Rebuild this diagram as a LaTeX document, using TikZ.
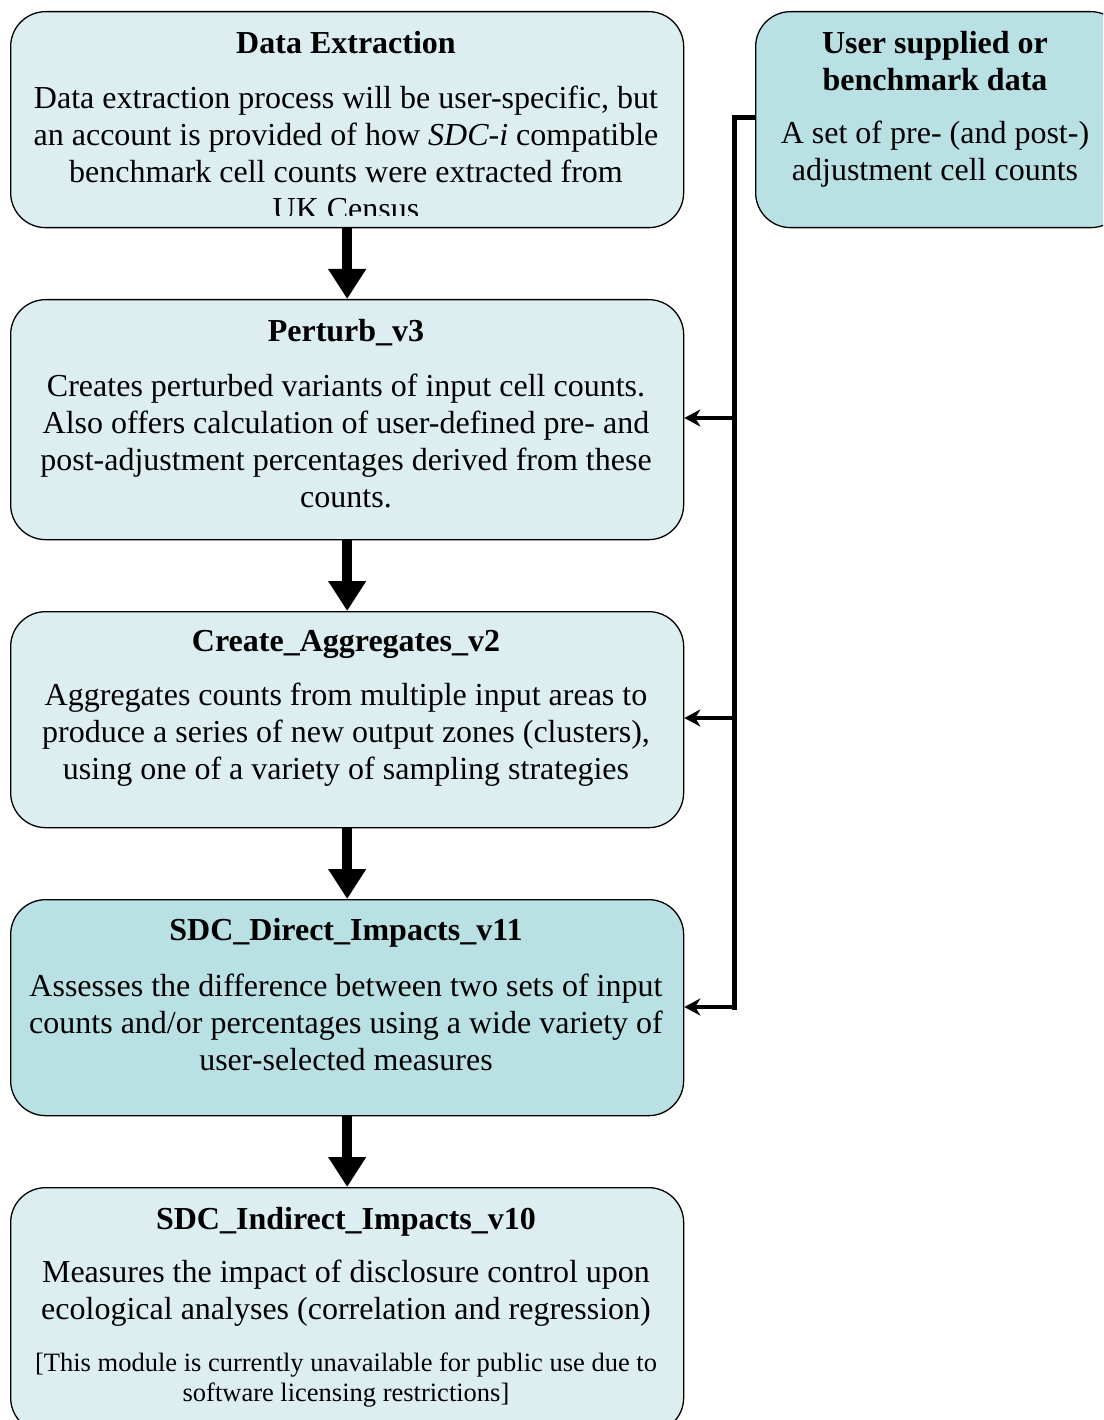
\documentclass[tikz,border=0pt]{standalone}
\usepackage{fontspec}
\setmainfont{Liberation Serif}
\usetikzlibrary{arrows.meta}
\definecolor{lightbox}{RGB}{221,238,241}
\definecolor{darkbox}{RGB}{185,224,227}
\tikzset{
  box/.style={draw=black, line width=1.3pt, rounded corners=35pt, inner sep=0pt, anchor=north west},
  ttl/.style={inner sep=0pt, font=\fontsize{32}{37}\selectfont\bfseries, align=center},
  body/.style={inner sep=0pt, font=\fontsize{32}{37}\selectfont, align=center},
  note/.style={inner sep=0pt, font=\fontsize{26.5}{30}\selectfont, align=center},
  bigarrow/.style={line width=10pt, -{Triangle[width=36pt,length=30pt]}},
  feed/.style={line width=5pt},
  feedarrow/.style={line width=4pt, -{Stealth[width=17pt,length=16pt,inset=5pt]}},
}
\begin{document}
\begin{tikzpicture}[x=1pt,y=-1pt]
\useasboundingbox (0,0) rectangle (1103,1420);
\begin{scope}
\clip (0,0) rectangle (1103,1420);
% boxes
\node[box, fill=lightbox, minimum width=673pt, minimum height=216pt] (ext) at (10,11) {};
\node[box, fill=lightbox, minimum width=673pt, minimum height=240pt] (per) at (10,299) {};
\node[box, fill=lightbox, minimum width=673pt, minimum height=216pt] (agg) at (10,611) {};
\node[box, fill=darkbox, minimum width=673pt, minimum height=216pt] (dir) at (10,899) {};
\node[box, fill=lightbox, minimum width=673pt, minimum height=245pt] (ind) at (10,1187) {};
\node[box, fill=darkbox, minimum width=370pt, minimum height=216pt] (usr) at (755,11) {};

% texts
\node[ttl] (t1) at (346,43) {Data Extraction};
\begin{scope}
\clip (10,11) rectangle (683,216);
\node[body] (b1) at (346,153) {Data extraction process will be user-specific, but\\an account is provided of how \textit{SDC-i} compatible\\benchmark cell counts were extracted from\\UK Census};
\end{scope}
\node[ttl] (t2) at (346,332.5) {Perturb\_v3};
\node[body] (b2) at (346,441) {Creates perturbed variants of input cell counts.\\Also offers calculation of user-defined pre- and\\post-adjustment percentages derived from these\\counts.};
\node[ttl] (t3) at (346,644.5) {Create\_Aggregates\_v2};
\node[body] (b3) at (346,735) {Aggregates counts from multiple input areas to\\produce a series of new output zones (clusters),\\using one of a variety of sampling strategies};
\node[ttl] (t4) at (346,932.5) {SDC\_Direct\_Impacts\_v11};
\node[body] (b4) at (346,1022) {Assesses the difference between two sets of input\\counts and/or percentages using a wide variety of\\user-selected measures};
\node[ttl] (t5) at (346,1221.5) {SDC\_Indirect\_Impacts\_v10};
\node[body] (b5) at (346,1293) {Measures the impact of disclosure control upon\\ecological analyses (correlation and regression)};
\node[note] (n5) at (346,1380) {[This module is currently unavailable for public use due to\\software licensing restrictions]};
\node[ttl] (t6) at (935,61.5) {User supplied or\\benchmark data};
\node[body] (b6) at (935,154) {A set of pre- (and post-)\\adjustment cell counts};

% main flow arrows
\draw[bigarrow] (ext.south) -- (per.north);
\draw[bigarrow] (per.south) -- (agg.north);
\draw[bigarrow] (agg.south) -- (dir.north);
\draw[bigarrow] (dir.south) -- (ind.north);

% feed connector
\coordinate (top) at (734,118);
\coordinate (bot) at (734,1007);
\draw[feed] (usr.west |- top) -- (top) -- (bot) -- ++(2.5,0);
\draw[feedarrow] (734,418) -- (per.east |- 0,418);
\draw[feedarrow] (734,718) -- (agg.east |- 0,718);
\draw[feedarrow] (736.5,1007) -- (dir.east |- 0,1007);
\end{scope}
\end{tikzpicture}
\end{document}
